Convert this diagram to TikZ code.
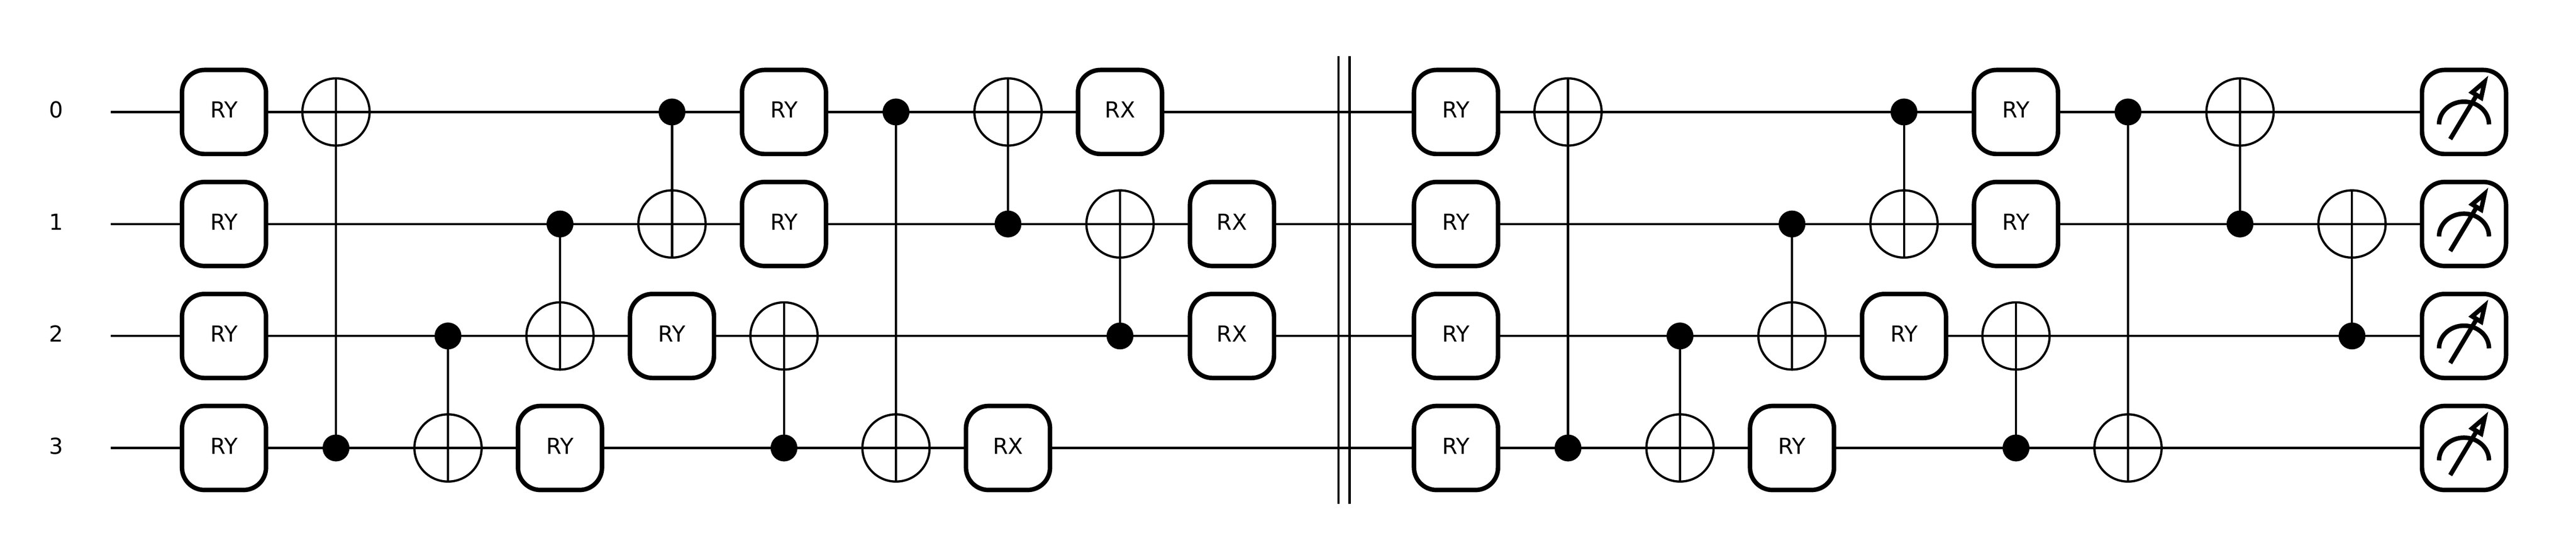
\documentclass[tikz,border=0pt]{standalone}
\usepackage{fontspec}
\setmainfont{DejaVu Sans}
\usetikzlibrary{positioning, backgrounds}
\tikzset{
    wire/.style={line width=0.02cm},
    qlabel/.style={font=\fontsize{5.6}{6}\selectfont, text height=0.144cm, text depth=0.038cm, inner sep=0pt},
    gate/.style={draw, fill=white, line width=0.04cm, rounded corners=0.2cm, minimum size=0.75cm, inner sep=0pt, outer sep=0pt,
        font=\fontsize{5.6}{6}\selectfont, text height=0.144cm, text depth=0.038cm},
    cnottarget/.style={draw, circle, line width=0.02cm, minimum size=0.6cm, inner sep=0pt, outer sep=0pt},
    ctrl/.style={circle, fill=black, minimum size=0.24cm, inner sep=0pt, outer sep=0pt},
    meterline/.style={line width=0.04cm}
}

\begin{document}
\begin{tikzpicture}[node distance=1cm, on grid]
        \useasboundingbox (0,0) rectangle (23,5);

        % Wire labels
        \node[qlabel] (lab0) at (0.5,4) {0};
        \node[qlabel, below=of lab0] (lab1) {1};
        \node[qlabel, below=of lab1] (lab2) {2};
        \node[qlabel, below=of lab2] (lab3) {3};

        % Both halves of the circuit hold the same gates
        \foreach \p/\x in {a/2, b/13} {
            % First RY column
            \node[gate] (\p-ry0) at (\x,4) {RY};
            \node[gate, below=of \p-ry0] (\p-ry1) {RY};
            \node[gate, below=of \p-ry1] (\p-ry2) {RY};
            \node[gate, below=of \p-ry2] (\p-ry3) {RY};

            % CNOT ladder
            \node[ctrl, right=of \p-ry3] (\p-c1) {};
            \node[cnottarget, right=of \p-ry0] (\p-t1) {};
            \node[ctrl, right=2cm of \p-ry2] (\p-c2) {};
            \node[cnottarget, right=of \p-c1] (\p-t2) {};
            \node[ctrl, right=3cm of \p-ry1] (\p-c3) {};
            \node[cnottarget, right=of \p-c2] (\p-t3) {};
            \node[ctrl, right=3cm of \p-t1] (\p-c4) {};
            \node[cnottarget, right=of \p-c3] (\p-t4) {};

            % Second RY gates
            \node[gate, right=of \p-t2] (\p-ryb3) {RY};
            \node[gate, right=of \p-t3] (\p-ryb2) {RY};
            \node[gate, right=of \p-c4] (\p-ryb0) {RY};
            \node[gate, right=of \p-t4] (\p-ryb1) {RY};

            % Second CNOT ladder
            \node[cnottarget, right=of \p-ryb2] (\p-t5) {};
            \node[ctrl, right=2cm of \p-ryb3] (\p-c5) {};
            \node[ctrl, right=of \p-ryb0] (\p-c6) {};
            \node[cnottarget, right=of \p-c5] (\p-t6) {};
            \node[ctrl, right=2cm of \p-ryb1] (\p-c7) {};
            \node[cnottarget, right=of \p-c6] (\p-t7) {};
            \node[ctrl, right=3cm of \p-t5] (\p-c8) {};
            \node[cnottarget, right=of \p-c7] (\p-t8) {};

            % Control lines
            \foreach \n/\side in {1/north, 2/south, 3/south, 4/south, 5/north, 6/south, 7/north, 8/north} {
                \draw[wire] (\p-c\n.center) -- (\p-t\n.\side);
            }
        }

        % RX gates
        \node[gate, right=of a-t7] (rx0) {RX};
        \node[gate, right=of a-t8] (rx1) {RX};
        \node[gate, right=of a-c8] (rx2) {RX};
        \node[gate, right=of a-t6] (rx3) {RX};

        % Measurements
        \foreach \q/\prev/\dist in {0/b-t7/2cm, 1/b-t8/1cm, 2/b-c8/1cm, 3/b-t6/3cm} {
            \node[gate, right=\dist of \prev] (meter\q) {};
            \begin{scope}[shift={(meter\q.center)}, meterline]
                \draw (-0.223,-0.111) arc[start angle=180, end angle=0, x radius=0.223, y radius=0.203];
                \draw (-0.123,-0.242) -- (0.113,0.151);
                \draw[line join=miter] (0.184,0.270) -- (0.153,0.127) -- (0.073,0.175) -- cycle;
            \end{scope}
        }

        % Barrier
        \coordinate (bar1top) at (11.95,4.5);
        \coordinate (bar1bot) at (11.95,0.5);
        \coordinate (bar2top) at (12.05,4.5);
        \coordinate (bar2bot) at (12.05,0.5);
        \draw[wire] (bar1top) -- (bar1bot);
        \draw[wire] (bar2top) -- (bar2bot);

        % Wires go behind the gates
        \begin{scope}[on background layer]
            \foreach \q in {0,1,2,3} {
                \coordinate[right=0.49cm of lab\q] (start\q);
                \draw[wire] (start\q) -- (meter\q.center);
            }
        \end{scope}
\end{tikzpicture}
\end{document}
